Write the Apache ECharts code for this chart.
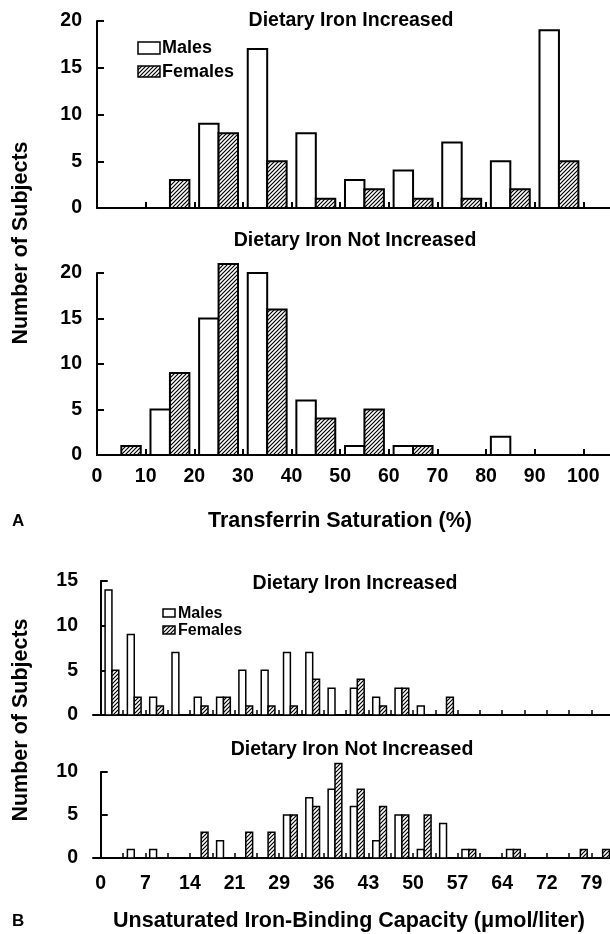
<!DOCTYPE html>
<html>
<head>
<meta charset="utf-8">
<script src="https://cdn.jsdelivr.net/npm/echarts@6/dist/echarts.min.js"></script>
<style>
html,body{margin:0;padding:0;background:#fff}
#chart{width:610px;height:934px}
</style>
</head>
<body>
<div id="chart"></div>
<script>
// Panel A: transferrin saturation (%), 10% bins
let binsA          = [0, 10, 20, 30, 40, 50, 60, 70, 80, 90];
let malesA_inc     = [0, 0, 9, 17, 8, 3, 4, 7, 5, 19];
let femalesA_inc   = [0, 3, 8, 5, 1, 2, 1, 1, 2, 5];
let malesA_not     = [0, 5, 15, 20, 6, 1, 1, 0, 2, 0];
let femalesA_not   = [1, 9, 21, 16, 4, 5, 1, 0, 0, 0];
let tickValuesA    = [0, 10, 20, 30, 40, 50, 60, 70, 80, 90, 100];

// Panel B: unsaturated iron-binding capacity (umol/liter), 3.58 bins
let binsB = [0, 3.58, 7.16, 10.74, 14.32, 17.9, 21.48, 25.06, 28.64, 32.22, 35.8, 39.38,
             42.96, 46.54, 50.12, 53.7, 57.28, 60.86, 64.44, 68.02, 71.6, 75.18, 78.76];
let malesB_inc   = [14, 9, 2, 7, 2, 2, 5, 5, 7, 7, 3, 3, 2, 3, 1, 0, 0, 0, 0, 0, 0, 0, 0];
let femalesB_inc = [5, 2, 1, 0, 1, 2, 1, 1, 1, 4, 0, 4, 1, 3, 0, 2, 0, 0, 0, 0, 0, 0, 0];
let malesB_not   = [0, 1, 1, 0, 0, 2, 0, 0, 5, 7, 8, 6, 2, 5, 1, 4, 1, 0, 1, 0, 0, 0, 0];
let femalesB_not = [0, 0, 0, 0, 3, 0, 3, 3, 5, 6, 11, 8, 6, 5, 5, 0, 1, 0, 1, 0, 0, 1, 1];
let labelValuesB = [0, 7.16, 14.32, 21.48, 28.64, 35.8, 42.96, 50.12, 57.28, 64.44, 71.6, 78.76];
let tickLabelsB  = ['0', '7', '14', '21', '29', '36', '43', '50', '57', '64', '72', '79'];

const FONT = '"Liberation Sans", Arial, sans-serif';

// diagonal hatch for females
let hatch = document.createElement('canvas');
hatch.width = 4; hatch.height = 4;
let hc = hatch.getContext('2d');
hc.fillStyle = '#fff'; hc.fillRect(0, 0, 4, 4);
hc.strokeStyle = '#000'; hc.lineWidth = 1.2;
hc.beginPath();
hc.moveTo(0, 4); hc.lineTo(4, 0);
hc.moveTo(-1, 1); hc.lineTo(1, -1);
hc.moveTo(3, 5); hc.lineTo(5, 3);
hc.stroke();
let hatchFill = { image: hatch, repeat: 'repeat' };

function barData(bins, values, from, to) {
    let out = [];
    bins.forEach((b, i) => { if (values[i] > 0) out.push([b + from, b + to, values[i]]); });
    return out;
}

function barSeries(idx, data, fill, lw) {
    return {
        type: 'custom', xAxisIndex: idx, yAxisIndex: idx, data: data, clip: false,
        encode: { x: [0, 1], y: 2 },
        renderItem: function (params, api) {
            let p0 = api.coord([api.value(0), api.value(2)]);
            let p1 = api.coord([api.value(1), 0]);
            return {
                type: 'rect',
                shape: { x: p0[0], y: p0[1], width: p1[0] - p0[0], height: p1[1] - p0[1] },
                style: { fill: fill, stroke: '#000', lineWidth: lw }
            };
        }
    };
}

let axisLine = { lineStyle: { color: '#000', width: 2 } };

function xAxisA(idx, showLabels) {
    return {
        type: 'value', gridIndex: idx, min: 0, max: 105.5,
        axisLine: axisLine, splitLine: { show: false },
        axisTick: { inside: true, length: 6, lineStyle: { color: '#000', width: 2 }, customValues: tickValuesA },
        axisLabel: { show: showLabels, customValues: tickValuesA, margin: 12, color: '#000',
                     fontSize: 19.5, fontWeight: 'bold', fontFamily: FONT }
    };
}
function xAxisB(idx, showLabels) {
    return {
        type: 'value', gridIndex: idx, min: -1.24, max: 81.74,
        axisLine: axisLine, splitLine: { show: false },
        axisTick: { inside: true, length: 5, lineStyle: { color: '#000', width: 1.5 }, customValues: binsB },
        axisLabel: { show: showLabels, customValues: labelValuesB, margin: 16, color: '#000',
                     fontSize: 19.5, fontWeight: 'bold', fontFamily: FONT,
                     formatter: v => tickLabelsB[labelValuesB.indexOf(v)] }
    };
}
function yAxis(idx, max) {
    return {
        type: 'value', gridIndex: idx, min: 0, max: max, interval: 5,
        axisLine: { show: true, lineStyle: { color: '#000', width: 2 } },
        splitLine: { show: false },
        axisTick: { show: true, inside: true, length: 7, lineStyle: { color: '#000', width: 2 } },
        axisLabel: { margin: 15, color: '#000', fontSize: 19.5, fontWeight: 'bold', fontFamily: FONT }
    };
}

function txt(x, y, text, size, align, rot) {
    return {
        type: 'text', x: x, y: y, rotation: rot || 0,
        style: { text: text, font: 'bold ' + size + 'px ' + FONT, fill: '#000',
                 align: align || 'center', verticalAlign: 'middle' }
    };
}
function box(x, y, w, h, fill) {
    return { type: 'rect', shape: { x: x, y: y, width: w, height: h },
             style: { fill: fill, stroke: '#000', lineWidth: 1.5 } };
}

let option = {
    animation: false,
    backgroundColor: '#fff',
    grid: [
        { left: 97, top: 21, width: 513, height: 187 },
        { left: 97, top: 273, width: 513, height: 182 },
        { left: 93, top: 581, width: 517, height: 134 },
        { left: 93, top: 772, width: 517, height: 86 }
    ],
    xAxis: [xAxisA(0, false), xAxisA(1, true), xAxisB(2, false), xAxisB(3, true)],
    yAxis: [yAxis(0, 20), yAxis(1, 20), yAxis(2, 15), yAxis(3, 10)],
    series: [
        barSeries(0, barData(binsA, malesA_inc, 1, 5), '#fff', 2),
        barSeries(0, barData(binsA, femalesA_inc, 5, 9), hatchFill, 2),
        barSeries(1, barData(binsA, malesA_not, 1, 5), '#fff', 2),
        barSeries(1, barData(binsA, femalesA_not, 5, 9), hatchFill, 2),
        barSeries(2, barData(binsB, malesB_inc, 0.7, 1.8), '#fff', 1.5),
        barSeries(2, barData(binsB, femalesB_inc, 1.8, 2.9), hatchFill, 1.5),
        barSeries(3, barData(binsB, malesB_not, 0.7, 1.8), '#fff', 1.5),
        barSeries(3, barData(binsB, femalesB_not, 1.8, 2.9), hatchFill, 1.5)
    ],
    graphic: [
        txt(351, 21, 'Dietary Iron Increased', 19.5),
        txt(355, 241, 'Dietary Iron Not Increased', 19.5),
        txt(355, 584, 'Dietary Iron Increased', 19.5),
        txt(352, 750, 'Dietary Iron Not Increased', 19.5),
        txt(21, 243, 'Number of Subjects', 21.5, 'center', Math.PI / 2),
        txt(21, 720, 'Number of Subjects', 21.5, 'center', Math.PI / 2),
        txt(12, 521, 'A', 17, 'left'),
        txt(340, 521, 'Transferrin Saturation (%)', 21.5),
        txt(12, 921, 'B', 17, 'left'),
        txt(349, 921, 'Unsaturated Iron-Binding Capacity (\u03bcmol/liter)', 21.5),
        box(138, 42, 22, 12, '#fff'),
        box(138, 66, 22, 11, hatchFill),
        txt(162, 48, 'Males', 18, 'left'),
        txt(162, 72, 'Females', 18, 'left'),
        box(163, 609, 12, 8, '#fff'),
        box(163, 626, 12, 8, hatchFill),
        txt(178, 614, 'Males', 16, 'left'),
        txt(178, 631, 'Females', 16, 'left')
    ]
};

let chart = echarts.init(document.getElementById('chart'));
chart.setOption(option);
</script>
</body>
</html>
